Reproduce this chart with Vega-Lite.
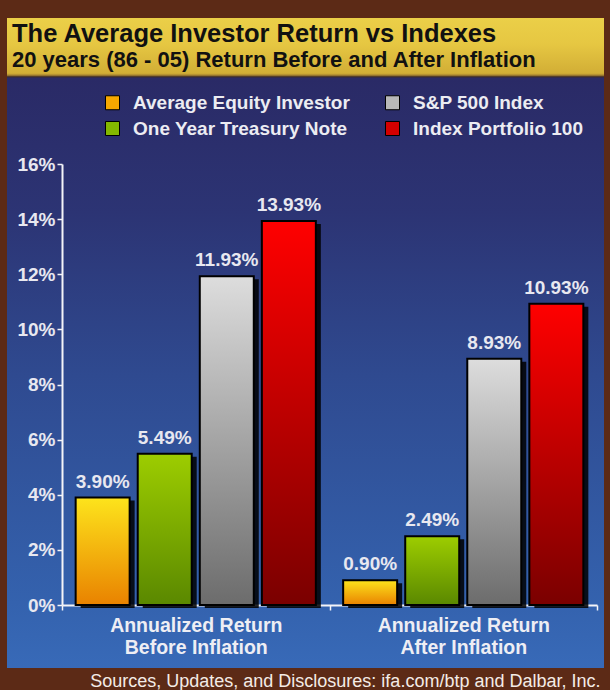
{
  "$schema": "https://vega.github.io/schema/vega-lite/v6.json",
  "width": 597,
  "height": 650,
  "autosize": {"type": "none"},
  "padding": {"left": 7, "top": 18, "right": 6, "bottom": 22},
  "background": "#5c2a16",
  "view": {
    "stroke": null,
    "fill": {
      "gradient": "linear", "x1": 0, "y1": 0, "x2": 0, "y2": 1,
      "stops": [
        {"offset": 0, "color": "#ebcf48"},
        {"offset": 0.04, "color": "#e6c742"},
        {"offset": 0.085, "color": "#d2ae36"},
        {"offset": 0.088, "color": "#a88430"},
        {"offset": 0.0905, "color": "#3c2a2a"},
        {"offset": 0.0925, "color": "#2a2a66"},
        {"offset": 0.3, "color": "#2c3474"},
        {"offset": 0.55, "color": "#2f4a90"},
        {"offset": 0.9, "color": "#3462ae"},
        {"offset": 1, "color": "#386ab8"}
      ]
    }
  },
  "title": {
    "text": "The Average Investor Return vs Indexes",
    "subtitle": "20 years (86 - 05)  Return Before and After Inflation",
    "anchor": "start",
    "frame": "bounds",
    "offset": -53,
    "dx": 5,
    "font": "Liberation Sans",
    "fontSize": 25.5,
    "fontWeight": "bold",
    "color": "#111111",
    "subtitleFont": "Liberation Sans",
    "subtitleFontSize": 22,
    "subtitleFontWeight": "bold",
    "subtitleColor": "#111111",
    "subtitlePadding": 3
  },
  "data": {
    "values": [
      {"group": "Before Inflation", "series": "Average  Equity Investor", "value": 0.039},
      {"group": "Before Inflation", "series": "One Year Treasury Note", "value": 0.0549},
      {"group": "Before Inflation", "series": "S&P 500 Index", "value": 0.1193},
      {"group": "Before Inflation", "series": "Index Portfolio 100", "value": 0.1393},
      {"group": "After Inflation", "series": "Average  Equity Investor", "value": 0.009},
      {"group": "After Inflation", "series": "One Year Treasury Note", "value": 0.0249},
      {"group": "After Inflation", "series": "S&P 500 Index", "value": 0.0893},
      {"group": "After Inflation", "series": "Index Portfolio 100", "value": 0.1093}
    ]
  },
  "resolve": {"scale": {"xOffset": "independent"}},
  "encoding": {
    "x": {
      "field": "group",
      "type": "nominal",
      "sort": ["Before Inflation", "After Inflation"],
      "scale": {"type": "band", "range": [55, 590], "paddingInner": 0, "paddingOuter": 0},
      "axis": {
        "title": "Sources, Updates, and Disclosures: ifa.com/btp and Dalbar, Inc.",
        "orient": "bottom",
        "offset": -63,
        "tickBand": "extent",
        "domainColor": "#f4f4f8",
        "domainWidth": 2,
        "tickColor": "#f4f4f8",
        "tickWidth": 1.5,
        "tickSize": 5,
        "labelAngle": 0,
        "labelExpr": "indexof(['Before Inflation', 'After Inflation'], datum.label) >= 0 ? ['Annualized Return', datum.label] : ''",
        "labelBaseline": "top",
        "labelLineHeight": 22,
        "labelPadding": 6,
        "labelLimit": 300,
        "labelFont": "Liberation Sans",
        "labelFontSize": 19.5,
        "labelFontWeight": "bold",
        "labelColor": "#eeeef4",
        "titleX": 593,
        "titleY": 81,
        "titleAlign": "right",
        "titleAnchor": null,
        "titleBaseline": "alphabetic",
        "titleFont": "Liberation Sans",
        "titleFontSize": 18,
        "titleFontWeight": "normal",
        "titleColor": "#f4ece6"
      }
    },
    "y": {
      "field": "value",
      "type": "quantitative",
      "scale": {"domain": [0, 0.16], "range": [587, 146], "nice": false},
      "axis": {
        "title": null,
        "orient": "left",
        "offset": -55,
        "values": [0, 0.02, 0.04, 0.06, 0.08, 0.1, 0.12, 0.14, 0.16],
        "format": ".0%",
        "grid": false,
        "domainColor": "#f4f4f8",
        "domainWidth": 2,
        "tickColor": "#f4f4f8",
        "tickWidth": 1.5,
        "tickSize": 5,
        "labelPadding": 2,
        "labelFont": "Liberation Sans",
        "labelFontSize": 19,
        "labelFontWeight": "bold",
        "labelColor": "#e8e8f0"
      }
    }
  },
  "layer": [
    {
      "mark": {"type": "bar", "color": "#000000", "opacity": 0.85, "yOffset": 3},
      "encoding": {
        "xOffset": {
          "field": "series", "type": "nominal",
          "scale": {"type": "band", "domain": ["Average  Equity Investor", "One Year Treasury Note", "S&P 500 Index", "Index Portfolio 100"], "range": [5, 272.5], "paddingInner": 0.13, "paddingOuter": 0.22}
        }
      }
    },
    {
      "mark": {"type": "bar"},
      "encoding": {
        "xOffset": {
          "field": "series", "type": "nominal",
          "scale": {"type": "band", "domain": ["Average  Equity Investor", "One Year Treasury Note", "S&P 500 Index", "Index Portfolio 100"], "range": [0, 267.5], "paddingInner": 0.13, "paddingOuter": 0.22}
        },
        "color": {
          "field": "series", "type": "nominal",
          "scale": {
            "domain": ["Average  Equity Investor", "One Year Treasury Note", "S&P 500 Index", "Index Portfolio 100"],
            "range": ["#f7a800", "#84b800", "#b8b8b8", "#d40000"]
          },
          "legend": {
            "title": null,
            "orient": "none",
            "legendX": 96,
            "legendY": 75,
            "columns": 2,
            "symbolType": "square",
            "symbolSize": 196,
            "symbolStrokeColor": "#000000",
            "symbolStrokeWidth": 1,
            "labelFont": "Liberation Sans",
            "labelFontSize": 19,
            "labelFontWeight": "bold",
            "labelColor": "#ececf2",
            "labelOffset": 11,
            "labelLimit": 400,
            "columnPadding": 27,
            "rowPadding": 6,
            "padding": 0,
            "encode": {"symbols": {"update": {"stroke": {"value": "#000000"}, "strokeWidth": {"value": 1}}}}
          }
        }
      }
    },
    {
      "mark": {"type": "bar", "stroke": "#000000", "strokeWidth": 2},
      "encoding": {
        "xOffset": {
          "field": "series", "type": "nominal",
          "scale": {"type": "band", "domain": ["Average  Equity Investor", "One Year Treasury Note", "S&P 500 Index", "Index Portfolio 100"], "range": [0, 267.5], "paddingInner": 0.13, "paddingOuter": 0.22}
        },
        "fill": {
          "condition": [
            {"test": "datum.series === 'Average  Equity Investor'", "value": {"gradient": "linear", "x1": 0, "y1": 0, "x2": 0, "y2": 1, "stops": [{"offset": 0, "color": "#fde41c"}, {"offset": 1, "color": "#e98200"}]}},
            {"test": "datum.series === 'One Year Treasury Note'", "value": {"gradient": "linear", "x1": 0, "y1": 0, "x2": 0, "y2": 1, "stops": [{"offset": 0, "color": "#9dcd00"}, {"offset": 1, "color": "#5a8800"}]}},
            {"test": "datum.series === 'S&P 500 Index'", "value": {"gradient": "linear", "x1": 0, "y1": 0, "x2": 0, "y2": 1, "stops": [{"offset": 0, "color": "#dddddd"}, {"offset": 1, "color": "#6c6c6c"}]}}
          ],
          "value": {"gradient": "linear", "x1": 0, "y1": 0, "x2": 0, "y2": 1, "stops": [{"offset": 0, "color": "#ff0000"}, {"offset": 1, "color": "#7a0000"}]}
        }
      }
    },
    {
      "mark": {"type": "text", "dy": -10, "baseline": "alphabetic", "align": "center", "font": "Liberation Sans", "fontSize": 19, "fontWeight": "bold", "color": "#e8e8f0"},
      "encoding": {
        "xOffset": {
          "field": "series", "type": "nominal",
          "scale": {"type": "band", "domain": ["Average  Equity Investor", "One Year Treasury Note", "S&P 500 Index", "Index Portfolio 100"], "range": [0, 267.5], "paddingInner": 0.13, "paddingOuter": 0.22}
        },
        "text": {"field": "value", "type": "quantitative", "format": ".2%"}
      }
    }
  ]
}
